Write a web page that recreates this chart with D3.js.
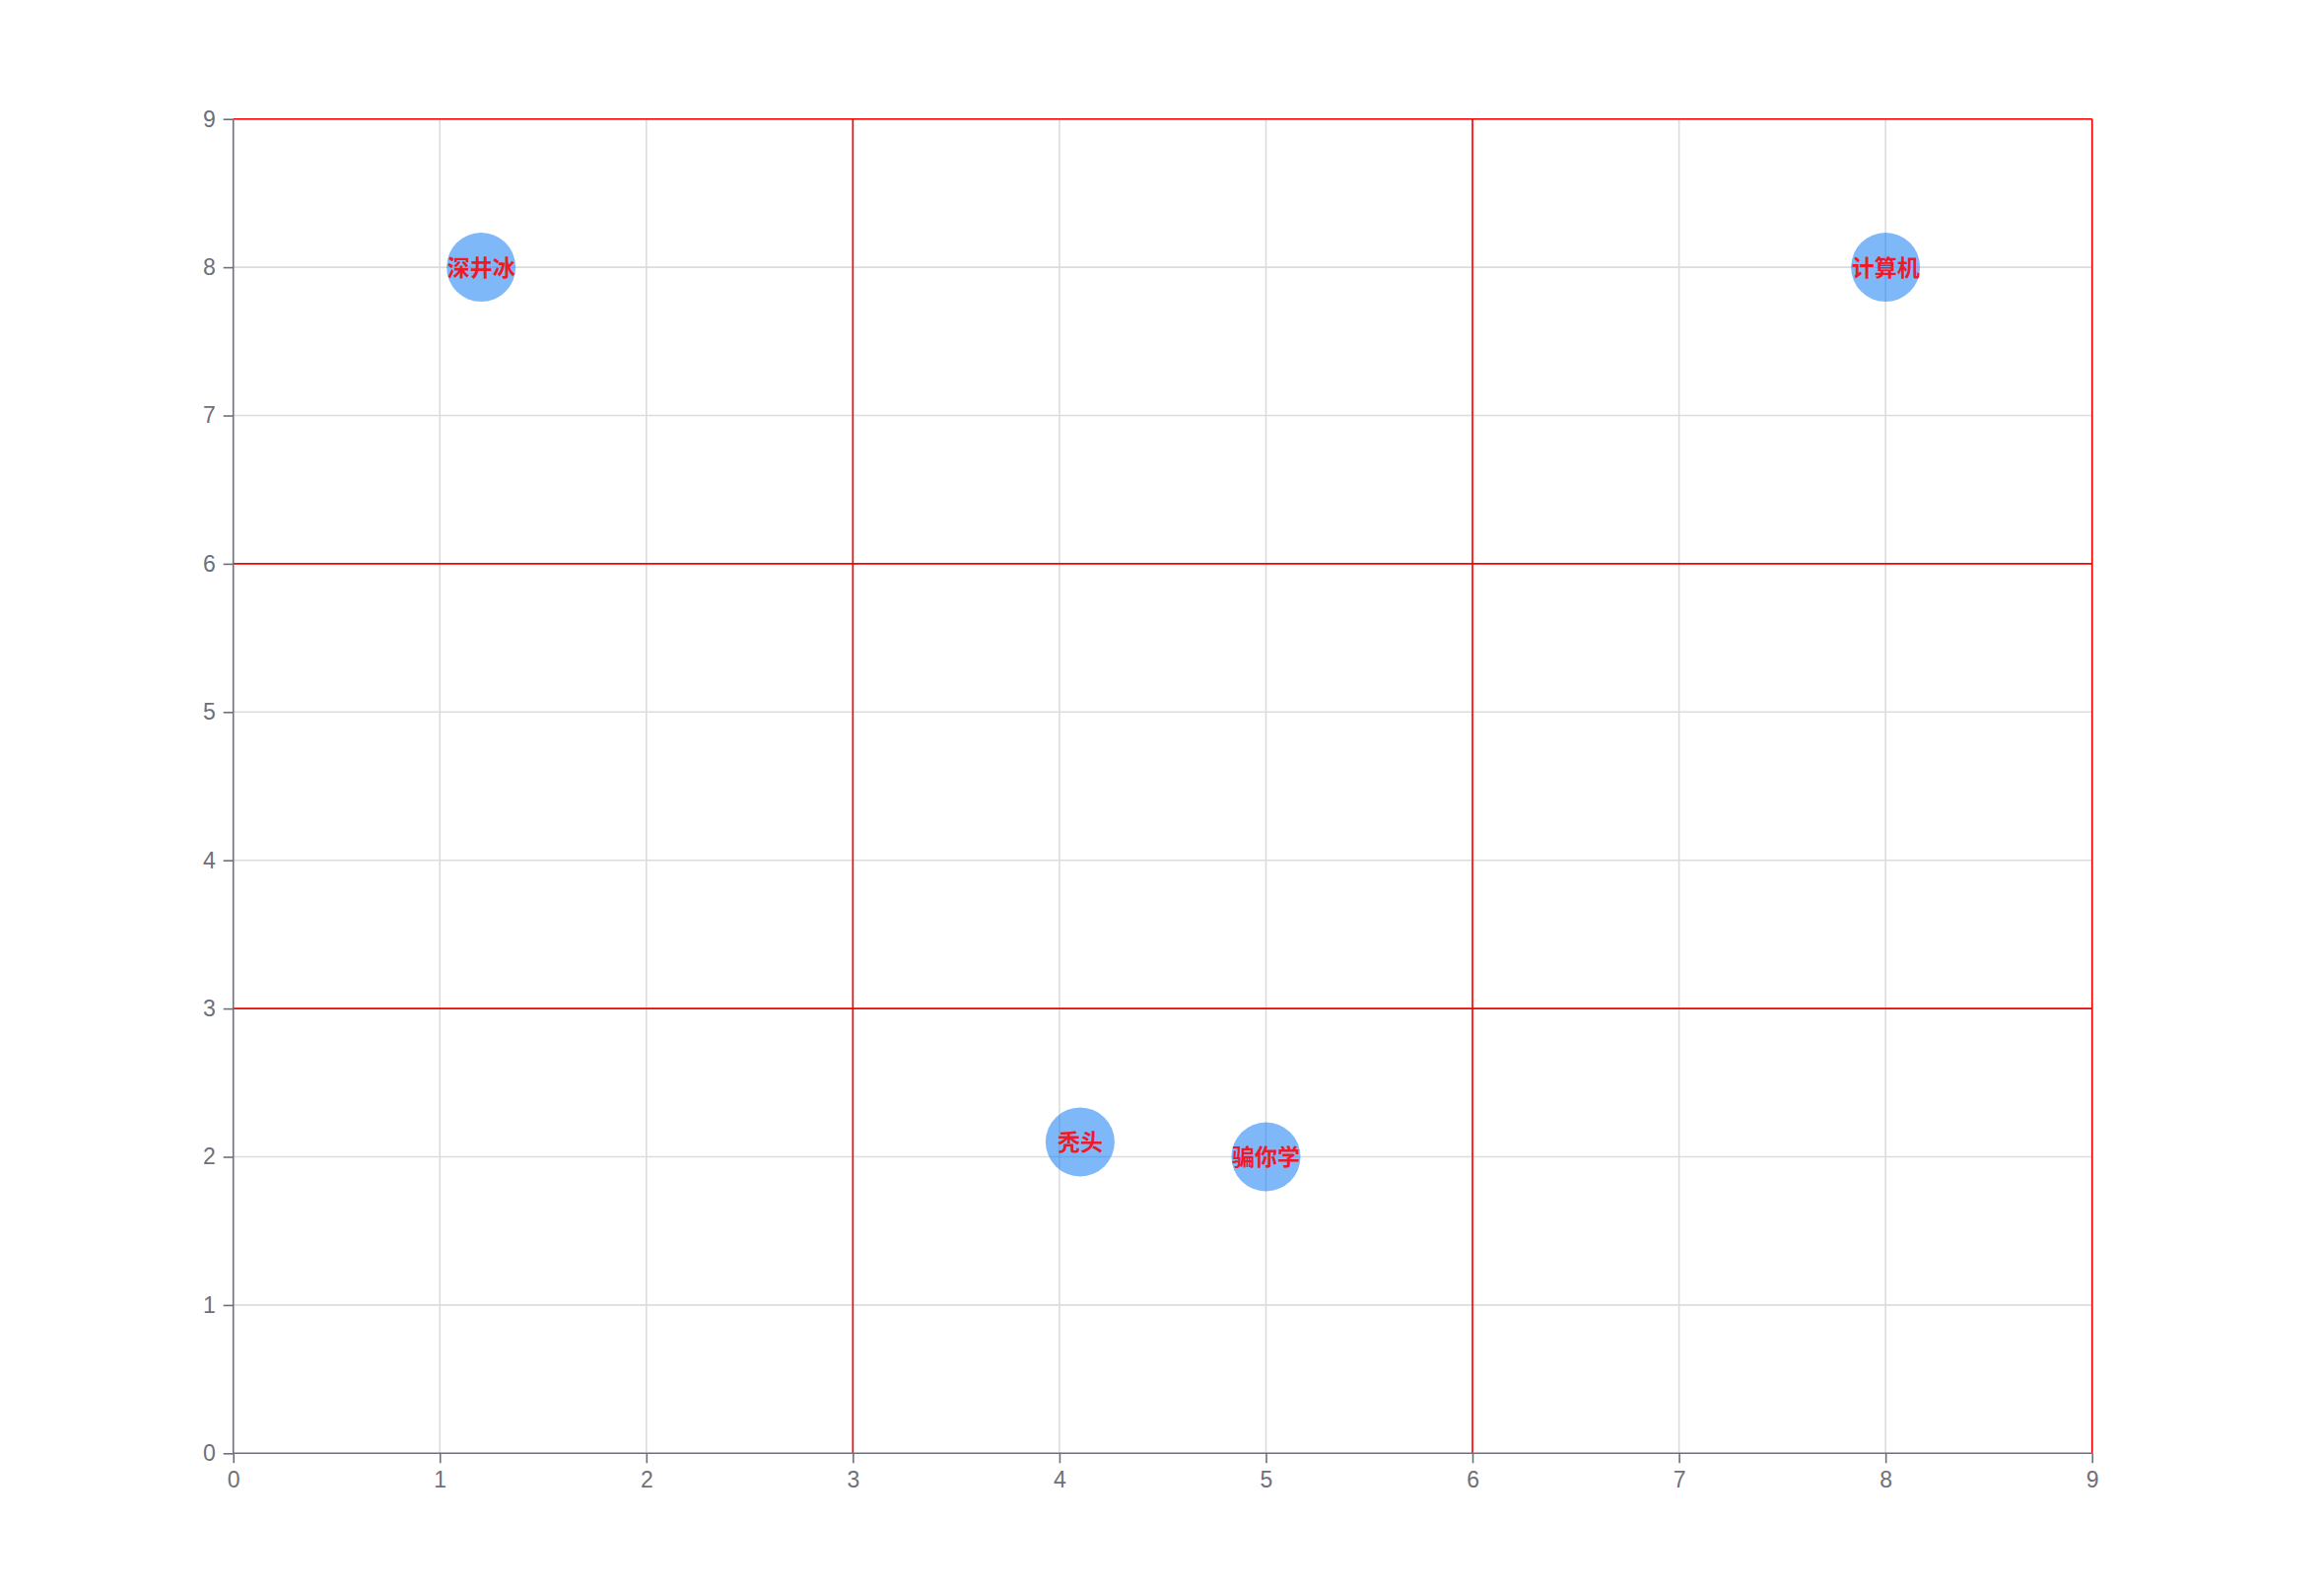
<!DOCTYPE html>
<html>
<head>
<meta charset="utf-8">
<script src="https://cdn.jsdelivr.net/npm/d3@7/dist/d3.min.js"></script>
<style>
  html, body { margin: 0; padding: 0; background: #fff; }
  svg { display: block; }
</style>
</head>
<body>
<svg id="chart" width="2358" height="1614"></svg>
<script>
// ---- data ----
const names = ["深井冰", "秃头", "骗你学", "计算机"];
const xValues = [1.2, 4.1, 5, 8];
const yValues = [8, 2.1, 2, 8];
const xTicks = [0, 1, 2, 3, 4, 5, 6, 7, 8, 9];
const yTicks = [0, 1, 2, 3, 4, 5, 6, 7, 8, 9];
const redLinesX = [3, 6, 9];
const redLinesY = [3, 6, 9];

// ---- layout ----
const mLeft = 236.7, mRight = 2122.7, mTop = 120.7, mBottom = 1474.3;
const axisColor = "#6E7079";

const svg = d3.select("#chart");
const x = d3.scaleLinear().domain([0, 9]).range([mLeft, mRight]);
const y = d3.scaleLinear().domain([0, 9]).range([mBottom, mTop]);

// gray grid
const grid = svg.append("g");
grid.selectAll("line.vx").data(xTicks.filter(d => d > 0)).enter().append("line")
  .attr("x1", d => x(d)).attr("x2", d => x(d))
  .attr("y1", mTop).attr("y2", mBottom)
  .attr("stroke", "#dcdcdc").attr("stroke-width", 1.6);
grid.selectAll("line.hy").data(yTicks.filter(d => d > 0)).enter().append("line")
  .attr("y1", d => y(d)).attr("y2", d => y(d))
  .attr("x1", mLeft).attr("x2", mRight)
  .attr("stroke", "#dcdcdc").attr("stroke-width", 1.6);

// red lines
const red = svg.append("g");
red.selectAll("line.rx").data(redLinesX).enter().append("line")
  .attr("x1", d => x(d)).attr("x2", d => x(d))
  .attr("y1", mTop).attr("y2", mBottom)
  .attr("stroke", "#ff0000").attr("stroke-width", 1.6);
red.selectAll("line.ry").data(redLinesY).enter().append("line")
  .attr("y1", d => y(d)).attr("y2", d => y(d))
  .attr("x1", mLeft).attr("x2", mRight)
  .attr("stroke", "#ff0000").attr("stroke-width", 1.6);

// axes
const xAxis = d3.axisBottom(x).tickValues(xTicks).tickSize(10).tickPadding(8).tickFormat(d3.format("d"));
const yAxis = d3.axisLeft(y).tickValues(yTicks).tickSize(10).tickPadding(8).tickFormat(d3.format("d"));

const gx = svg.append("g").attr("transform", `translate(0,${mBottom})`).call(xAxis);
const gy = svg.append("g").attr("transform", `translate(${mLeft},0)`).call(yAxis);
[gx, gy].forEach(g => {
  g.select(".domain").attr("stroke", axisColor).attr("stroke-width", 1.6);
  g.selectAll(".tick line").attr("stroke", axisColor).attr("stroke-width", 1.6);
  g.selectAll(".tick text")
    .attr("fill", axisColor)
    .style("font-family", "'Liberation Sans', Arial, sans-serif")
    .style("font-size", "23px");
});
gy.select(".domain").attr("d", `M0,${mBottom}V${mTop}`);
gx.select(".domain").attr("d", `M${mLeft},0H${mRight}`);

// points
const pts = names.map((n, i) => ({ name: n, x: xValues[i], y: yValues[i] }));
const gp = svg.append("g");
gp.selectAll("circle").data(pts).enter().append("circle")
  .attr("cx", d => x(d.x)).attr("cy", d => y(d.y)).attr("r", 35)
  .attr("fill", "rgb(0,113,241)").attr("fill-opacity", 0.5);
gp.selectAll("text").data(pts).enter().append("text")
  .attr("x", d => x(d.x)).attr("y", d => y(d.y) - 1.5)
  .attr("text-anchor", "middle").attr("dominant-baseline", "central")
  .attr("fill", "#ee1a2b")
  .style("font-family", "'Noto Sans CJK SC', sans-serif")
  .style("font-weight", "bold")
  .style("font-size", "23px")
  .text(d => d.name);
</script>
</body>
</html>
